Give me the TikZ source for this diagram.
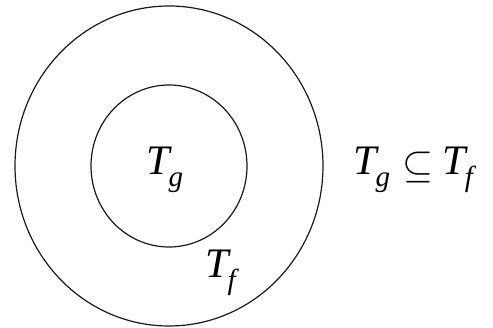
\documentclass[tikz,border=0pt]{standalone}
\usepackage{fontspec}
\usepackage{graphicx}
\newfontfamily\tms{Liberation Serif}[ItalicFont={Liberation Serif Italic}]
\newcommand\Tsub[1]{{\tms\itshape T}\kern-0.02em\raisebox{-0.28em}{\fontsize{29}{30}\selectfont\tms\itshape #1}}
\newcommand\subsetsym{\raisebox{-0.05em}{\scalebox{4.0}{\normalsize$\subseteq$}}}
\begin{document}
\begin{tikzpicture}[x=1pt,y=-1pt,
  ring/.style={draw=black!90,line width=1.2pt},
  lbl/.style={inner sep=0pt,anchor=base west,font=\fontsize{42}{48}\selectfont}]
\useasboundingbox (0,0) rectangle (493,328);
\draw[ring] (169,166) ellipse [x radius=154, y radius=160];
\draw[ring] (169,166) ellipse [x radius=78, y radius=81];
\node[lbl] (tg) at (146,175) {\Tsub{g}};
\node[lbl] (tf) at (205,278) {\Tsub{f}};
\node[lbl] (rel) at (353,175) {\Tsub{g}\hspace{0.3em}\subsetsym\hspace{0.2em}\Tsub{f}};
\end{tikzpicture}
\end{document}
